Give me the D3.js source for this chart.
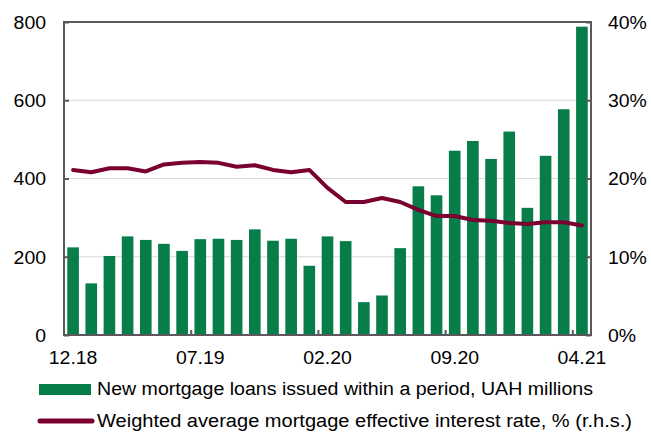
<!DOCTYPE html>
<html><head><meta charset="utf-8">
<script src="https://cdn.jsdelivr.net/npm/d3@7"></script>
<style>body{margin:0;background:#fff}svg{display:block;font-family:"Liberation Sans",Arial,sans-serif}</style>
</head><body><svg id="c" width="651" height="432"></svg>
<script>
const months = ["12.18","01.19","02.19","03.19","04.19","05.19","06.19","07.19","08.19","09.19","10.19","11.19","12.19","01.20","02.20","03.20","04.20","05.20","06.20","07.20","08.20","09.20","10.20","11.20","12.20","01.21","02.21","03.21","04.21"];
const loans = [224,132,202,252,243,233,215,245,246,243,270,241,246,177,252,240,84,101,222,380,357,471,496,450,520,325,458,577,788];
const rate = [21.1,20.8,21.3,21.3,20.9,21.8,22.0,22.1,22.0,21.5,21.7,21.1,20.8,21.1,18.8,17.0,17.0,17.5,17.0,16.0,15.2,15.2,14.7,14.6,14.3,14.2,14.4,14.4,14.0];
const leftTicks = [0,200,400,600,800];
const rightTicks = [0,10,20,30,40];
const xTickLabels = ["12.18","07.19","02.20","09.20","04.21"];
const legendLabels = ["New mortgage loans issued within a period, UAH millions","Weighted average mortgage effective interest rate, % (r.h.s.)"];

const L=64,R=591,T=22,B=335;
const svg=d3.select("#c");
const x=d3.scaleBand().domain(months).range([L,R]).paddingInner(0.36).paddingOuter(0.18);
const xs=d3.scaleBand().domain(months).range([L,R]);
const yL=d3.scaleLinear().domain([0,800]).range([B,T]);
const yR=d3.scaleLinear().domain([0,40]).range([B,T]);
const green="#077d49", maroon="#7a0030", axisCol="#595959";

svg.append("g").selectAll("line").data(leftTicks.filter(d=>d>0&&d<800)).join("line")
 .attr("x1",L).attr("x2",R).attr("y1",d=>yL(d)).attr("y2",d=>yL(d))
 .attr("stroke","#d9d9d9").attr("stroke-width",1);

svg.append("g").selectAll("rect").data(loans).join("rect")
 .attr("x",(d,i)=>x(months[i])).attr("width",x.bandwidth())
 .attr("y",d=>yL(d)).attr("height",d=>B-yL(d)).attr("fill",green);

svg.append("path").datum(rate)
 .attr("d",d3.line().x((d,i)=>xs(months[i])+xs.bandwidth()/2).y(d=>yR(d)))
 .attr("fill","none").attr("stroke",maroon).attr("stroke-width",4).attr("stroke-linejoin","round").attr("stroke-linecap","round");

svg.append("rect").attr("x",L).attr("y",T).attr("width",R-L).attr("height",B-T)
 .attr("fill","none").attr("stroke",axisCol).attr("stroke-width",2);

const gl=svg.append("g").attr("transform",`translate(${L},0)`)
 .call(d3.axisLeft(yL).tickValues(leftTicks).tickSize(-5).tickPadding(18).tickFormat(d3.format("d")));
const gr=svg.append("g").attr("transform",`translate(${R},0)`)
 .call(d3.axisRight(yR).tickValues(rightTicks).tickSize(-5).tickPadding(17).tickFormat(d=>d+"%"));
const gb=svg.append("g").attr("transform",`translate(0,${B})`)
 .call(d3.axisBottom(x).tickValues(xTickLabels).tickSize(0).tickPadding(15));
[gl,gr,gb].forEach(g=>{g.select(".domain").remove();g.selectAll("text").attr("font-size",18).attr("fill","#000").attr("font-family","Liberation Sans, Arial, sans-serif");g.selectAll("line").attr("stroke",axisCol).attr("stroke-width",2);});
gl.selectAll("text").attr("dy","0.35em");
gr.selectAll("text").attr("dy","0.35em");
gb.selectAll("text").attr("dy","0.75em");
svg.append("g").selectAll("line").data(xTickLabels).join("line")
 .attr("x1",d=>xs(d)).attr("x2",d=>xs(d)).attr("y1",B).attr("y2",B-5)
 .attr("stroke",axisCol).attr("stroke-width",2);

// axis glyphs are slightly wider than Liberation Sans: stretch horizontally
svg.selectAll("text").each(function(){
  const n=this.getComputedTextLength();
  d3.select(this).attr("textLength",n*1.08).attr("lengthAdjust","spacingAndGlyphs");
});

const lg=svg.append("g");
lg.append("rect").attr("x",39).attr("y",384).attr("width",52).attr("height",11).attr("fill",green);
lg.append("line").attr("x1",40).attr("x2",92).attr("y1",421).attr("y2",421).attr("stroke",maroon).attr("stroke-width",5).attr("stroke-linecap","round");
const legendWidths=[496,535];
lg.selectAll("text").data(legendLabels).join("text")
 .attr("x",97).attr("y",(d,i)=>395+i*32).attr("font-size",18).attr("fill","#000")
 .attr("textLength",(d,i)=>legendWidths[i]).attr("lengthAdjust","spacingAndGlyphs").text(d=>d);
</script></body></html>
